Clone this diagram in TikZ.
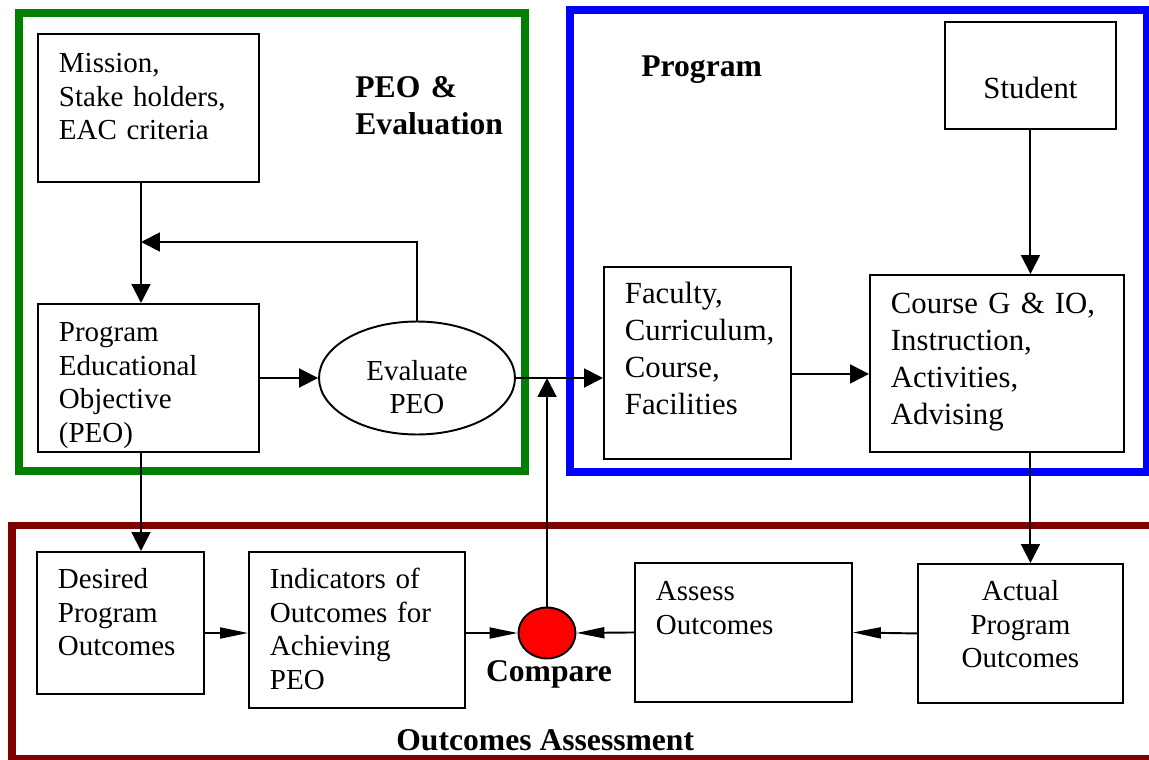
\documentclass[tikz,border=0pt]{standalone}
\usepackage{fontspec}
\setmainfont{Liberation Serif}
\usetikzlibrary{positioning}
\usetikzlibrary{shapes.geometric, arrows.meta, calc}

\definecolor{peogreen}{RGB}{0,128,0}
\definecolor{progblue}{RGB}{0,0,255}
\definecolor{assessred}{RGB}{128,0,0}

\begin{document}
\begin{tikzpicture}[
  x=0.02cm, y=-0.02cm,
  box/.style={rectangle, draw, line width=1.1pt, anchor=north west, inner xsep=0.42cm, inner ysep=0pt, align=left, font=\fontsize{16.5}{19}\selectfont},
  bigbox/.style={box, font=\fontsize{17.5}{20.9}\selectfont},
  zone/.style={line width=4pt},
  heading/.style={anchor=base west, inner sep=0pt, align=left, font=\fontsize{18}{21}\selectfont\bfseries},
  arrow/.style={-{Triangle[length=0.38cm, width=0.38cm]}, line width=1.1pt},
  slim arrow/.style={-{Triangle[length=0.56cm, width=0.22cm]}, line width=1.1pt}
]
  \clip (0,0) rectangle (1149,760);
  \draw[zone, peogreen] (19,13) rectangle (525,471);
  \draw[zone, progblue] (570,10) rectangle (1146,472);
  \draw[zone, assessred] (12,525.5) rectangle (1170,758.5);

  \node[box, text width=3.58cm, text height=0.78cm, text depth=2.18cm] (mission) at (37,33) {Mission,\\Stake holders,\\EAC criteria};
  \node[box, text width=3.58cm, text height=0.76cm, text depth=2.2cm] (peo) at (37,303) {Program\\Educational\\Objective\\(PEO)};
  \node[ellipse, draw, line width=1.1pt, minimum width=3.92cm, minimum height=2.26cm, inner sep=0pt, text width=2.6cm, align=center, text height=0.58cm, text depth=0.5cm, font=\fontsize{16.5}{19}\selectfont] (eval) at (417,378) {Evaluate\\PEO};
  \node[bigbox, text width=2.9cm, text height=0.74cm, text depth=3.1cm] (faculty) at (603,266) {Faculty,\\Curriculum,\\Course,\\Facilities};
  \node[bigbox, text width=4.24cm, text height=0.78cm, text depth=2.76cm] (course) at (869,274) {Course G \& IO,\\Instruction,\\Activities,\\Advising};
  \node[bigbox, align=center, text width=2.58cm, text height=1.54cm, text depth=0.6cm] (student) at (944,21) {Student};
  \node[box, text width=2.5cm, text height=0.74cm, text depth=2.1cm] (desired) at (36,551) {Desired\\Program\\Outcomes};
  \node[box, text width=3.48cm, text height=0.74cm, text depth=2.38cm] (indic) at (248,551) {Indicators of\\Outcomes for\\Achieving\\PEO};
  \node[box, text width=3.5cm, text height=0.76cm, text depth=2.02cm] (assess) at (634,562) {Assess\\Outcomes};
  \node[box, align=center, text width=3.26cm, text height=0.74cm, text depth=2.04cm] (actual) at (917,563) {Actual\\Program\\Outcomes};
  \node[ellipse, draw, line width=1.1pt, fill=red, minimum width=1.14cm, minimum height=1.02cm, inner sep=0pt] (cmp) at (547,633) {};

  \node[heading, text width=3.6cm] (peohead) at (355,98) {PEO \&\\Evaluation};
  \node[heading] (proghead) at (641,77) {Program};
  \node[heading, anchor=base] (cmplabel) at (549,681) {Compare};
  \node[heading] (assesshead) at (396,750) {Outcomes Assessment};

  \coordinate (fb) at (141,242);
  \draw[arrow] (mission.south -| fb) -- (peo.north -| fb);
  \draw[arrow] (eval.north) |- (fb);
  \draw[arrow] (peo.east |- eval) -- (eval.west);
  \draw[arrow] (eval.east) -- (eval.east -| faculty.west);
  \draw[arrow] ([yshift=-0.22cm]faculty.east) -- ([yshift=-0.22cm]faculty.east -| course.west);
  \draw[arrow] (student.south) -- (student.south |- course.north);
  \draw[arrow] (student.south |- course.south) -- (student.south |- actual.north);
  \draw[arrow] (fb |- peo.south) -- (fb |- desired.north);
  \draw[slim arrow] (cmp -| desired.east) -- (cmp -| indic.west);
  \draw[slim arrow] (cmp -| indic.east) -- (cmp.west);
  \draw[slim arrow] (assess.west) -- (cmp.east);
  \draw[slim arrow] (actual.west) -- (assess.east);
  \draw[arrow] (cmp.north) -- (cmp |- eval.east);
\end{tikzpicture}
\end{document}
